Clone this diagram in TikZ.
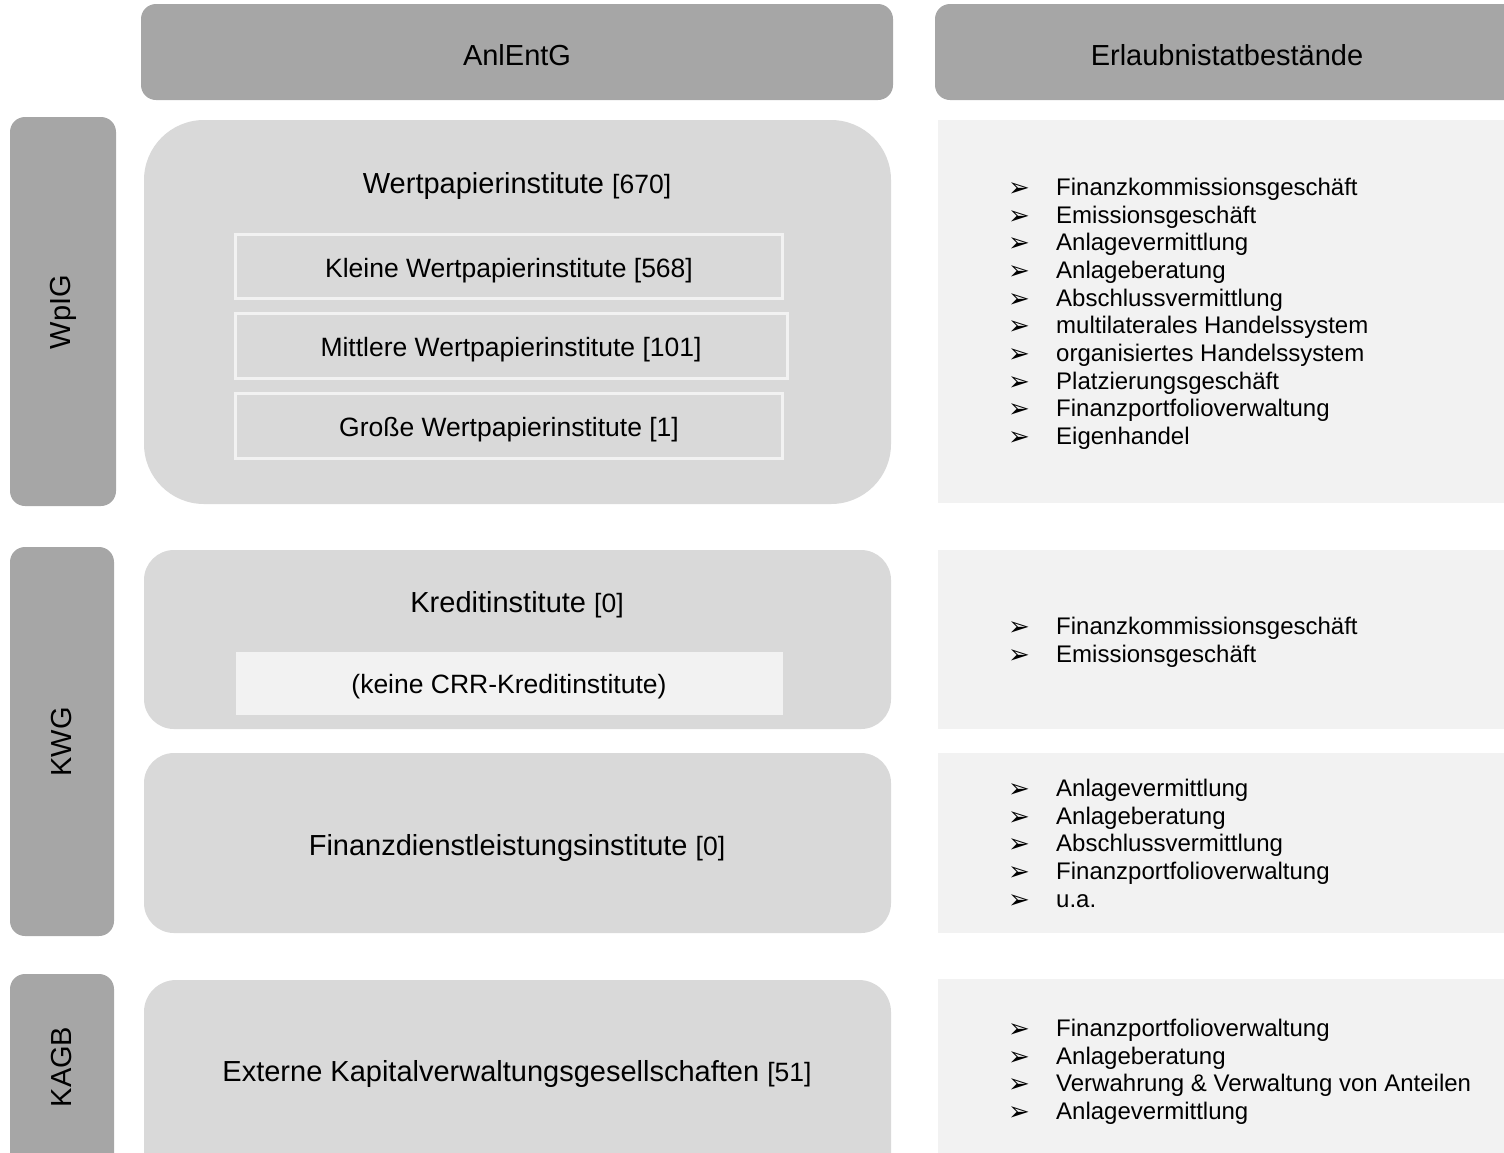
\documentclass[tikz,border=0pt]{standalone}
\usepackage{fontspec}
\setmainfont{Liberation Sans}
\newfontfamily\symfont{DejaVu Sans}
\definecolor{dk}{HTML}{A6A6A6}
\definecolor{md}{HTML}{D9D9D9}
\definecolor{lt}{HTML}{F2F2F2}
\begin{document}
\begin{tikzpicture}[x=1pt,y=-1pt,
  hdr/.style={fill=dk,draw=none,rounded corners=15pt},
  grp/.style={fill=md,draw=none},
  panel/.style={fill=lt,draw=none},
  sub/.style={fill=md,draw=lt,line width=3pt},
  big/.style={font=\fontsize{29}{34}\selectfont,anchor=base,inner sep=0pt},
  mid/.style={font=\fontsize{26.5}{31}\selectfont,anchor=base,inner sep=0pt},
  side/.style={font=\fontsize{29}{34}\selectfont,rotate=90,inner sep=0pt},
  item/.style={font=\fontsize{24}{28}\selectfont,anchor=base west,inner sep=0pt,text height=17pt,text depth=5pt},
  bul/.style={font=\symfont\fontsize{26}{28}\selectfont,anchor=base west,inner sep=0pt,text height=16pt,text depth=0pt}]
\useasboundingbox (0,0) rectangle (1504,1152);
\clip (0,0) rectangle (1504,1152);
\newcommand\brk[1]{{\fontsize{26.5}{30}\selectfont#1}}
% headers
\path[hdr] (141,4) rectangle (893,100);
\path[hdr] (935,4) rectangle (1530,100);
\node[big] (hA) at (517,65) {AnlEntG};
\node[big] (hE) at (1227,65) {Erlaubnistatbestände};
% side labels
\path[hdr] (10,117) rectangle (116,506);
\path[hdr] (10,547) rectangle (114,936);
\path[hdr] (10,974) rectangle (114,1180);
\node[side] (sW) at (63,312) {WpIG};
\node[side] (sK) at (62,742) {KWG};
\node[side] (sA) at (62,1067) {KAGB};
% middle groups
\path[grp,rounded corners=60pt] (144,120) rectangle (891,504);
\path[grp,rounded corners=30pt] (144,550) rectangle (891,729);
\path[grp,rounded corners=30pt] (144,753) rectangle (891,933);
\path[grp,rounded corners=32pt] (144,980) rectangle (891,1200);
\node[big] (tW) at (517,193) {Wertpapierinstitute \brk{[670]}};
\path[sub] (235.5,234.5) rectangle (782.5,298.5);
\path[sub] (235.5,313.5) rectangle (787.5,378.5);
\path[sub] (235.5,393.5) rectangle (782.5,458.5);
\node[mid] (tK1) at (509,277.5) {Kleine Wertpapierinstitute [568]};
\node[mid] (tK2) at (511,356.5) {Mittlere Wertpapierinstitute [101]};
\node[mid] (tK3) at (509,436.5) {Große Wertpapierinstitute [1]};
\node[big] (tKr) at (517,612) {Kreditinstitute \brk{[0]}};
\path[panel] (236,652) rectangle (783,715);
\node[mid] (tCRR) at (509,693.5) {(keine CRR-Kreditinstitute)};
\node[big] (tF) at (517,855) {Finanzdienstleistungsinstitute \brk{[0]}};
\node[big] (tE) at (517,1081) {Externe Kapitalverwaltungsgesellschaften \brk{[51]}};
% right panels
\path[panel] (938,120) rectangle (1510,503);
\path[panel] (938,550) rectangle (1510,729);
\path[panel] (938,753) rectangle (1510,933);
\path[panel] (938,979) rectangle (1510,1200);
\foreach \t [count=\i] in {Finanzkommissionsgeschäft,Emissionsgeschäft,Anlagevermittlung,Anlageberatung,Abschlussvermittlung,multilaterales Handelssystem,organisiertes Handelssystem,Platzierungsgeschäft,Finanzportfolioverwaltung,Eigenhandel}{
  \node[bul] (b1-\i) at (1008,{196.6+(\i-1)*27.67}) {➢};
  \node[item] (l1-\i) at (1056,{195.6+(\i-1)*27.67}) {\t};
}
\foreach \t [count=\i] in {Finanzkommissionsgeschäft,Emissionsgeschäft}{
  \node[bul] (b2-\i) at (1008,{635.6+(\i-1)*27.67}) {➢};
  \node[item] (l2-\i) at (1056,{634.6+(\i-1)*27.67}) {\t};
}
\foreach \t [count=\i] in {Anlagevermittlung,Anlageberatung,Abschlussvermittlung,Finanzportfolioverwaltung,u.a.}{
  \node[bul] (b3-\i) at (1008,{797.6+(\i-1)*27.67}) {➢};
  \node[item] (l3-\i) at (1056,{796.6+(\i-1)*27.67}) {\t};
}
\foreach \t [count=\i] in {Finanzportfolioverwaltung,Anlageberatung,Verwahrung \& Verwaltung von Anteilen,Anlagevermittlung}{
  \node[bul] (b4-\i) at (1008,{1037.6+(\i-1)*27.67}) {➢};
  \node[item] (l4-\i) at (1056,{1036.6+(\i-1)*27.67}) {\t};
}
\end{tikzpicture}
\end{document}
